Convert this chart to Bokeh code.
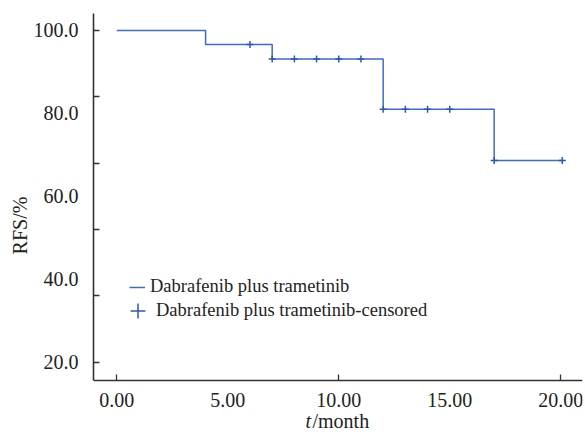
from bokeh.plotting import figure
from bokeh.models import FixedTicker, Range1d, Legend, LegendItem, Label, ColumnDataSource
from bokeh.embed import file_html
from bokeh.resources import INLINE

# Kaplan-Meier step curve (time in months, RFS %)
step_time = [0.0, 4.0, 7.0, 12.0, 17.0, 20.07]
step_surv = [100.0, 96.6, 93.1, 81.0, 68.6, 68.6]

# censored observations
cens_time = [6.0, 7.0, 8.0, 9.0, 10.0, 11.0, 12.0, 13.0, 14.0, 15.0, 17.0, 20.07]
cens_surv = [96.6, 93.1, 93.1, 93.1, 93.1, 93.1, 81.0, 81.0, 81.0, 81.0, 68.6, 68.6]

x_labels = [0, 5, 10, 15, 20]
x_tick_marks = [0, 10, 20]
y_labels = [20, 40, 60, 80, 100]
y_tick_marks = [20, 36, 52, 68, 84, 100]

series_name = "Dabrafenib plus trametinib"
censor_name = "Dabrafenib plus trametinib-censored"

FONT = "Liberation Serif"
LINE_COLOR = "#3b6ccc"
MARK_COLOR = "#2b58b5"
AXIS_COLOR = "#333333"
TEXT_COLOR = "#222222"

Y_FLOOR = 15.54   # where the x axis crosses
Y_TOP = 104.1

p = figure(width=585, height=437, output_backend="svg", toolbar_location=None,
           x_range=Range1d(-1.05, 20.98), y_range=Range1d(1.79, Y_TOP),
           min_border_left=93, min_border_top=13, min_border_right=3, min_border_bottom=0)
p.outline_line_color = None
p.xgrid.grid_line_color = None
p.ygrid.grid_line_color = None
p.background_fill_color = "white"

src_line = ColumnDataSource(dict(t=step_time, s=step_surv))
src_cens = ColumnDataSource(dict(t=cens_time, s=cens_surv))

r_step = p.step("t", "s", source=src_line, mode="after", line_color=LINE_COLOR, line_width=1.5)
r_cens = p.scatter("t", "s", source=src_cens, marker="cross", size=7,
                   line_color=MARK_COLOR, line_width=1.5)

legend1 = Legend(items=[LegendItem(label=series_name, renderers=[r_step])],
                 location=(36, 140), orientation="vertical",
                 label_text_font=FONT, label_text_font_size="18.5px", label_text_color=TEXT_COLOR,
                 glyph_width=16, glyph_height=20, label_height=20, label_standoff=5,
                 spacing=0, padding=0, margin=0,
                 border_line_color=None, background_fill_alpha=0)
legend2 = Legend(items=[LegendItem(label=censor_name, renderers=[r_cens])],
                 location=(26, 108), orientation="vertical",
                 label_text_font=FONT, label_text_font_size="18.5px", label_text_color=TEXT_COLOR,
                 glyph_width=37, glyph_height=37, label_height=20, label_standoff=-6,
                 spacing=0, padding=0, margin=0,
                 border_line_color=None, background_fill_alpha=0)
p.add_layout(legend1, "center")
p.add_layout(legend2, "center")

for ax in (p.xaxis[0], p.yaxis[0]):
    ax.axis_line_color = AXIS_COLOR
    ax.axis_line_width = 1.6
    ax.major_tick_line_color = None
    ax.minor_tick_line_color = AXIS_COLOR
    ax.minor_tick_line_width = 1.3
    ax.minor_tick_in = 6
    ax.minor_tick_out = 0
    ax.major_label_text_font = FONT
    ax.major_label_text_font_size = "20px"
    ax.major_label_text_color = TEXT_COLOR

p.xaxis.ticker = FixedTicker(ticks=x_labels, minor_ticks=x_tick_marks)
p.xaxis.major_label_overrides = {v: f"{v:.2f}" for v in x_labels}
p.xaxis.major_label_standoff = 6
p.xaxis.fixed_location = Y_FLOOR

p.yaxis.ticker = FixedTicker(ticks=y_labels, minor_ticks=y_tick_marks)
p.yaxis.major_label_overrides = {v: f"{v:.1f}" for v in y_labels}
p.yaxis.major_label_standoff = 9
p.yaxis.bounds = (Y_FLOOR, Y_TOP)
p.yaxis.axis_label = "RFS/%"
p.yaxis.axis_label_text_font = FONT
p.yaxis.axis_label_text_font_size = "20px"
p.yaxis.axis_label_text_font_style = "normal"
p.yaxis.axis_label_text_color = TEXT_COLOR
p.yaxis.axis_label_standoff = 0

lab_t = Label(x=212, y=17, x_units="screen", y_units="screen", text="t",
              text_font=FONT, text_font_size="20px", text_font_style="italic",
              text_color=TEXT_COLOR, text_baseline="middle", text_align="left")
lab_m = Label(x=219, y=17, x_units="screen", y_units="screen", text="/month",
              text_font=FONT, text_font_size="20px", text_font_style="normal",
              text_color=TEXT_COLOR, text_baseline="middle", text_align="left")
p.add_layout(lab_t)
p.add_layout(lab_m)

open("out.html", "w").write(file_html(p, INLINE))
